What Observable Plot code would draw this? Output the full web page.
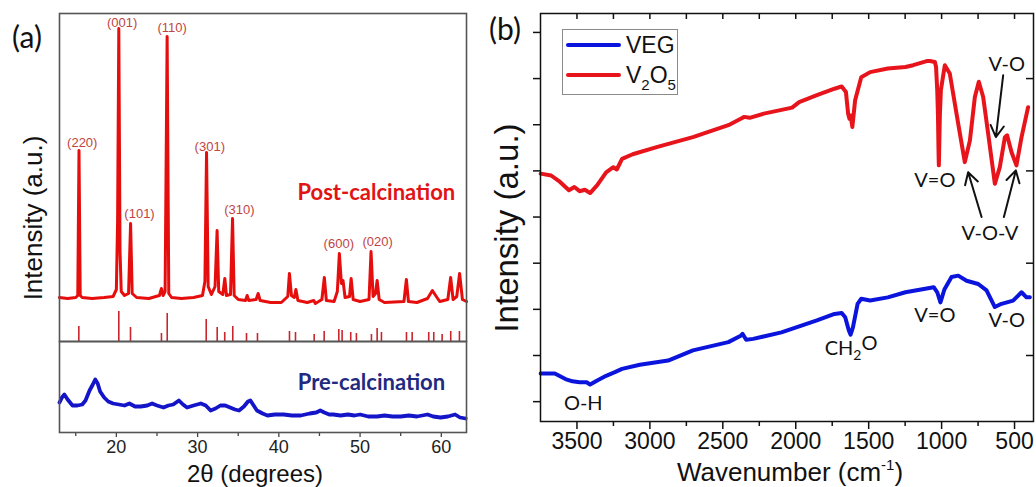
<!DOCTYPE html>
<html><head><meta charset="utf-8">
<script src="https://cdn.jsdelivr.net/npm/d3@7"></script>
<script src="https://cdn.jsdelivr.net/npm/@observablehq/plot@0.6"></script>
<style>
html,body{margin:0;padding:0;background:#fff;}
#chart{position:relative;width:1036px;height:487px;overflow:hidden;font-family:"Liberation Sans",Arial,sans-serif;color:#111;}
.lbl{position:absolute;white-space:nowrap;line-height:1;transform:translate(-50%,-50%);}
.rot{transform:translate(-50%,-50%) rotate(-90deg);}
.panel{font-family:Lato,sans-serif;font-size:30px;}
.legend{position:absolute;left:562px;top:29px;width:114px;height:64px;border:1.5px solid #8a8a8a;background:#fff;}
.sw{position:absolute;left:3px;width:55px;height:4px;border-radius:2px;}
.lt{position:absolute;left:63px;font-size:23px;line-height:1;white-space:nowrap;}
.sub{font-size:15px;position:relative;top:7px;}
.sup{font-size:15px;position:relative;top:-11px;}
</style></head>
<body>
<div id="chart">
  <div class="lbl panel" style="left:27px;top:36px;">(a)</div>
  <div class="lbl panel" style="left:505px;top:28px;">(b)</div>
  <div class="lbl rot" style="left:33px;top:218px;font-size:26px;">Intensity (a.u.)</div>
  <div class="lbl rot" style="left:506px;top:228px;font-size:33px;">Intensity (a.u.)</div>
  <div class="lbl" style="left:255px;top:474px;font-size:24px;">2θ (degrees)</div>
  <div class="lbl" style="left:790px;top:472px;font-size:26px;">Wavenumber (cm<span class="sup">-1</span>)</div>
</div>
<script>
// ---------- Panel (a): XRD ----------
const thetaMajor = [20, 30, 40, 50, 60];
const thetaMinor = [15, 25, 35, 45, 55];

// Post-calcination pattern [2θ, intensity a.u.]
const postCalcination = [
  [13.0,44],[14.0,43],[15.0,44],[15.25,46],[15.4,191],[15.55,46],[15.8,44],[17.0,43],[18.5,44],[19.6,45],
  [20.0,52],[20.15,120],[20.3,313],[20.45,90],[20.6,50],[21.0,46],[21.5,48],[21.75,118],[21.95,48],[22.5,44],
  [24.0,43],[25.3,46],[25.55,53],[25.75,46],[26.0,50],[26.25,305],[26.45,48],[26.8,44],[28.0,43],[29.5,44],
  [30.6,46],[30.9,60],[31.1,189],[31.3,55],[31.7,47],[32.15,55],[32.4,111],[32.6,50],[33.1,47],[33.35,63],
  [33.55,46],[34.05,47],[34.3,123],[34.5,46],[35.0,42],[35.9,41],[36.1,46],[36.3,41],[37.2,42],[37.45,48],
  [37.7,41],[39.0,39],[40.3,39],[41.1,45],[41.3,68],[41.55,46],[41.9,44],[42.1,52],[42.35,41],[43.5,39],
  [44.3,41],[44.5,38],[45.3,42],[45.6,64],[45.85,41],[46.8,40],[47.2,50],[47.45,88],[47.7,58],[47.9,61],
  [48.15,44],[48.7,45],[48.9,63],[49.15,42],[50.0,40],[51.1,42],[51.35,90],[51.6,45],[51.9,48],[52.1,61],
  [52.35,42],[53.0,39],[55.4,40],[55.7,62],[55.95,40],[57.0,39],[58.3,43],[58.9,51],[59.3,46],[59.8,40],
  [60.8,42],[61.15,64],[61.45,42],[61.9,45],[62.25,68],[62.6,42],[63.1,40]
];

// Reference pattern sticks [2θ, relative intensity]
const referenceSticks = [
  [15.38,15],[20.30,30],[21.74,14],[25.55,8],[26.26,28],[31.06,22],[32.41,14],[33.34,9],[34.33,15],
  [36.02,8],[37.37,8],[41.31,10],[42.05,9],[44.35,7],[45.58,10],[47.38,12],[47.79,11],[48.85,9],
  [49.55,8],[51.40,7],[52.10,13],[52.63,9],[55.71,9],[56.41,9],[58.45,9],[59.07,9],[60.10,7],[61.16,10],[62.23,10]
];

// Miller index labels [2θ, level, text]
const peakLabels = [
  [15.8,199,"(220)"],[20.72,319,"(001)"],[26.87,314,"(110)"],[31.5,195,"(301)"],
  [22.85,128,"(101)"],[35.15,132,"(310)"],[47.38,98,"(600)"],[52.17,100,"(020)"]
];

// Pre-calcination pattern [2θ, intensity a.u.]
const preCalcination = [
  [13.0,30],[13.3,35],[13.6,38],[14.0,33],[14.6,27],[15.2,27],[15.8,28],[16.2,32],[16.7,42],[17.1,48],
  [17.4,53],[17.7,49],[18.0,41],[18.5,35],[19.0,31],[19.6,29],[20.3,28],[21.0,27],[21.6,29],[22.3,26],
  [23.0,26],[23.8,27],[24.4,29],[25.0,27],[25.8,25],[26.4,27],[27.0,28],[27.7,32],[28.2,28],[28.7,25],
  [29.5,27],[30.4,29],[31.0,27],[31.6,22],[32.2,24],[32.8,27],[33.4,27],[34.0,25],[34.6,23],[35.1,22],
  [35.7,26],[36.2,31],[36.5,32],[36.9,27],[37.3,22],[38.0,19],[38.6,17],[39.5,18],[40.6,18],[41.6,17],
  [42.7,17],[43.8,19],[44.6,20],[45.1,22],[45.6,20],[46.2,18],[46.7,18],[47.6,17],[48.5,18],[49.3,17],
  [50.0,18],[51.0,16],[52.1,16],[53.0,17],[54.0,16],[55.0,16],[56.0,17],[57.0,16],[58.3,18],[59.0,16],
  [59.9,15],[60.8,16],[61.7,18],[62.3,15],[63.0,14]
];

const postLabel = [[52.0,149,"Post-calcination"]];
const preLabel = [[51.4,50,"Pre-calcination"]];

// ---------- Panel (b): FTIR ----------
const wnMajor = [500, 1000, 1500, 2000, 2500, 3000, 3500];
const wnMinor = [750, 1250, 1750, 2250, 2750, 3250];
const wnTop = [500, 750, 1000, 1250, 1500, 1750, 2000, 2250, 2500, 2750, 3000, 3250, 3500];
const levelTicks = [0, 1, 2, 3, 4, 5, 6, 7, 8];
const levelTicksRight = [1, 3, 5, 7];

// V2O5 spectrum [wavenumber, level a.u.]
const v2o5 = [
  [3749,4.94],[3677,4.90],[3616,4.76],[3555,4.58],[3518,4.65],[3482,4.56],[3446,4.59],[3410,4.52],[3361,4.69],
  [3300,4.97],[3251,5.08],[3227,5.03],[3191,5.26],[3118,5.36],[2948,5.52],[2705,5.73],[2462,5.99],[2377,6.13],
  [2353,6.17],[2316,6.15],[2219,6.24],[2025,6.37],[1977,6.49],[1855,6.64],[1734,6.78],[1685,6.83],[1656,6.71],
  [1641,6.24],[1632,6.13],[1624,6.20],[1612,5.95],[1593,6.53],[1551,7.03],[1490,7.14],[1369,7.22],[1248,7.25],
  [1195,7.29],[1102,7.38],[1080,7.38],[1046,7.36],[1038,7.25],[1030,6.75],[1025,6.2],[1021,5.4],[1019,5.12],
  [1017,5.4],[1012,6.2],[1005,6.75],[978,7.29],[944,7.11],[886,6.02],[841,5.19],[806,5.66],[772,6.60],
  [745,6.93],[715,6.60],[681,5.81],[635,4.72],[601,5.08],[566,5.73],[551,5.77],[521,5.41],[487,5.12],
  [452,5.73],[407,6.38]
];

// VEG spectrum [wavenumber, level a.u.]
const veg = [
  [3749,0.61],[3652,0.61],[3579,0.49],[3531,0.44],[3482,0.42],[3434,0.42],[3410,0.37],[3361,0.46],[3300,0.56],
  [3240,0.64],[3191,0.71],[3069,0.80],[2875,0.89],[2705,1.11],[2462,1.29],[2377,1.43],[2365,1.47],[2340,1.34],
  [2292,1.36],[2098,1.50],[1855,1.76],[1734,1.90],[1685,1.92],[1661,1.83],[1636,1.54],[1624,1.45],[1608,1.61],
  [1576,2.12],[1551,2.23],[1490,2.19],[1369,2.26],[1248,2.37],[1054,2.48],[1030,2.37],[1008,2.15],[981,2.43],
  [932,2.70],[886,2.73],[829,2.62],[749,2.55],[692,2.41],[635,2.05],[589,2.12],[510,2.19],[452,2.37],
  [418,2.26],[395,2.26]
];

// Band assignments [wavenumber, level, text]
const bandLabels = [
  [553,7.31,"V-O"],[1046,4.79,"V=O"],[669,3.64,"V-O-V"],
  [1621,1.15,"CH2O"],[1046,1.87,"V=O"],[553,1.76,"V-O"],[3457,-0.04,"O-H"]
];
// Arrows [from wn, from level, to wn, to level]
const bandArrows = [
  [578,7.07,628,5.73],[726,4.00,818,4.97],[573,4.00,491,5.01]
];

const seriesNames = ["VEG", "V2O5"];
const seriesColors = ["#0a14dc", "#e8141c"];

const chart = document.getElementById("chart");
const baseStyle = {fontFamily: "'Liberation Sans', Arial, sans-serif", background: "transparent", overflow: "visible"};

function place(svg, left, top) {
  svg.style.position = "absolute";
  svg.style.left = left + "px";
  svg.style.top = top + "px";
  chart.appendChild(svg);
}

const aTop = Plot.plot({
  width: 480, height: 342, marginLeft: 59, marginRight: 14, marginTop: 13, marginBottom: 1,
  x: {domain: [13, 63.1], axis: null},
  y: {domain: [0, 328], axis: null},
  style: baseStyle,
  marks: [
    Plot.ruleX(referenceSticks, {x: d => d[0], y1: 0, y2: d => d[1], stroke: "#c8262c", strokeWidth: 1.6}),
    Plot.line(postCalcination, {x: d => d[0], y: d => d[1], stroke: "#e60d0d", strokeWidth: 3, strokeLinejoin: "round"}),
    Plot.text(peakLabels, {x: d => d[0], y: d => d[1], text: d => d[2], fill: "#c0443f", fontSize: 13}),
    Plot.text(postLabel, {x: d => d[0], y: d => d[1], text: d => d[2], fill: "#e01414", fontSize: 22, fontWeight: "bold", fontFamily: "Lato, sans-serif"}),
    Plot.frame({stroke: "#555", strokeWidth: 1.6})
  ]
});
place(aTop, 0, 0);

const aBottom = Plot.plot({
  width: 480, height: 147, marginLeft: 59, marginRight: 14, marginTop: 1, marginBottom: 55,
  x: {domain: [13, 63.1]},
  y: {domain: [0, 91], axis: null},
  style: baseStyle,
  marks: [
    Plot.axisX({ticks: thetaMajor, tickSize: 5, tickPadding: 3, fontSize: 18, label: null, stroke: "#444", strokeWidth: 1.3, fill: "#222"}),
    Plot.axisX({ticks: thetaMinor, tickSize: 4, tickFormat: () => "", label: null, stroke: "#444", strokeWidth: 1.3}),
    Plot.line(preCalcination, {x: d => d[0], y: d => d[1], stroke: "#1414c8", strokeWidth: 3.8, strokeLinejoin: "round"}),
    Plot.text(preLabel, {x: d => d[0], y: d => d[1], text: d => d[2], fill: "#1f2a80", fontSize: 22, fontWeight: "bold", fontFamily: "Lato, sans-serif"}),
    Plot.frame({stroke: "#555", strokeWidth: 1.6})
  ]
});
place(aBottom, 0, 340);

const series = [
  {name: seriesNames[0], color: seriesColors[0], data: veg},
  {name: seriesNames[1], color: seriesColors[1], data: v2o5}
];

const b = Plot.plot({
  width: 556, height: 487, marginLeft: 60, marginRight: 3, marginTop: 13, marginBottom: 66,
  x: {domain: [3750, 370]},
  y: {domain: [-0.43, 8.41]},
  style: baseStyle,
  marks: [
    Plot.axisX({ticks: wnMajor, tickSize: 8, tickPadding: 3, fontSize: 23, tickFormat: "d", label: null, stroke: "#111", strokeWidth: 1.5, fill: "#111"}),
    Plot.axisX({ticks: wnMinor, tickSize: 5, tickFormat: () => "", label: null, stroke: "#111", strokeWidth: 1.5}),
    Plot.axisY({ticks: levelTicks, tickSize: 7, tickFormat: () => "", label: null, stroke: "#111", strokeWidth: 1.5}),
    Plot.tickX(wnTop, {x: d => d, insetBottom: 402, stroke: "#111", strokeWidth: 1.5}),
    Plot.tickY(levelTicksRight, {y: d => d, insetLeft: 486, stroke: "#111", strokeWidth: 1.5}),
    ...series.map(s => Plot.line(s.data, {x: d => d[0], y: d => d[1], stroke: s.color, strokeWidth: 4, strokeLinejoin: "round", strokeLinecap: "round"})),
    Plot.arrow(bandArrows, {x1: d => d[0], y1: d => d[1], x2: d => d[2], y2: d => d[3], stroke: "#111", strokeWidth: 2, headLength: 10}),
    Plot.text(bandLabels, {x: d => d[0], y: d => d[1], text: d => d[2], fill: "#111", fontSize: 20, fontFamily: "Lato, sans-serif"}),
    Plot.frame({stroke: "#111", strokeWidth: 1.5})
  ]
});
place(b, 480, 0);

// subscripts for chemical formulas
b.querySelectorAll("text").forEach(t => {
  if (t.textContent === "CH2O") {
    t.textContent = "";
    const ns = "http://www.w3.org/2000/svg";
    t.appendChild(document.createTextNode("CH"));
    const s = document.createElementNS(ns, "tspan");
    s.setAttribute("dy", "0.35em"); s.setAttribute("font-size", "14"); s.textContent = "2";
    const o = document.createElementNS(ns, "tspan");
    o.setAttribute("dy", "-0.5em"); o.textContent = "O";
    t.appendChild(s); t.appendChild(o);
  }
});

// legend
const legend = document.createElement("div");
legend.className = "legend";
series.forEach((s, i) => {
  const sw = document.createElement("div");
  sw.className = "sw"; sw.style.background = s.color; sw.style.top = (13 + i * 30) + "px";
  const lt = document.createElement("div");
  lt.className = "lt"; lt.style.top = (4 + i * 30) + "px";
  lt.innerHTML = s.name === "V2O5" ? 'V<span class="sub">2</span>O<span class="sub">5</span>' : s.name;
  legend.appendChild(sw); legend.appendChild(lt);
});
chart.appendChild(legend);
</script>
</body></html>
